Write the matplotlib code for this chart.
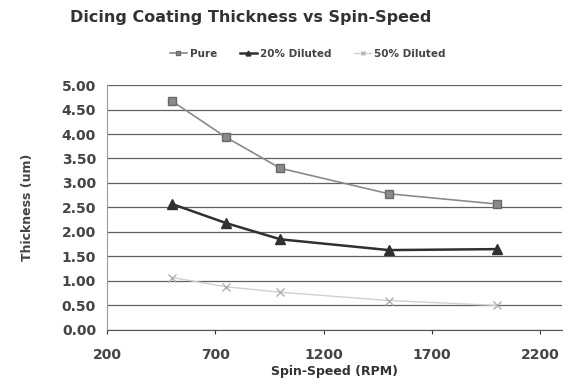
import matplotlib
matplotlib.use("Agg")
import matplotlib.pyplot as plt
import numpy as np

# values
speed = [500, 750, 1000, 1500, 2000]
pure = [4.67, 3.93, 3.30, 2.78, 2.57]
dil20 = [2.57, 2.18, 1.85, 1.63, 1.65]
dil50 = [1.07, 0.88, 0.77, 0.60, 0.50]
xticks = [200, 700, 1200, 1700, 2200]
yticks = np.arange(0, 5.01, 0.5)

plt.rcParams['font.family'] = ['DejaVu Sans']
plt.rcParams['font.weight'] = 'bold'

fig = plt.figure(figsize=(5.7, 3.9), dpi=100)
ax = fig.add_axes([0.188, 0.154, 0.798, 0.628])

ax.plot(speed, pure, color='#8a8a8a', lw=1.2, marker='s', ms=6,
        mfc='#8a8a8a', mec='#6a6a6a', label='Pure')
ax.plot(speed, dil20, color='#303030', lw=1.8, marker='^', ms=7,
        mfc='#303030', mec='#303030', label='20% Diluted')
ax.plot(speed, dil50, color='#d0d0d0', lw=1.0, marker='x', ms=6,
        mec='#b0b0b0', label='50% Diluted')

ax.set_xlim(200, 2300)
ax.set_ylim(0, 5.0)
ax.set_xticks(xticks)
ax.set_yticks(yticks)
ax.set_yticklabels(['%.2f' % v for v in yticks])
ax.tick_params(axis='both', labelsize=10, colors='#333333', length=3, width=0.8)
ax.tick_params(axis='y', length=0, pad=8)
ax.tick_params(axis='x', pad=10)
for lab in ax.get_xticklabels() + ax.get_yticklabels():
    lab.set_fontweight('bold')
    lab.set_color('#444444')

ax.grid(axis='y', color='#606060', lw=0.9)
ax.set_axisbelow(True)
for s in ['top', 'right']:
    ax.spines[s].set_visible(False)
ax.spines['left'].set_color('#999999')
ax.spines['bottom'].set_color('#555555')

ax.set_ylabel('Thickness (um)', fontsize=9, fontweight='bold', color='#444444', labelpad=20)
ax.set_xlabel('Spin-Speed (RPM)', fontsize=9, fontweight='bold', color='#333333', labelpad=2)

fig.text(0.44, 0.955, 'Dicing Coating Thickness vs Spin-Speed', ha='center', va='center',
         fontsize=11.5, fontweight='bold', color='#333333')

leg = fig.legend(loc='center', bbox_to_anchor=(0.54, 0.862), ncol=3, frameon=False,
                 fontsize=7.5, handlelength=1.6, columnspacing=2.2, handletextpad=0.3,
                 markerscale=0.5)
for t in leg.get_texts():
    t.set_color('#444444')
    t.set_fontweight('bold')

fig.savefig('out.png', dpi=100, facecolor='white')
